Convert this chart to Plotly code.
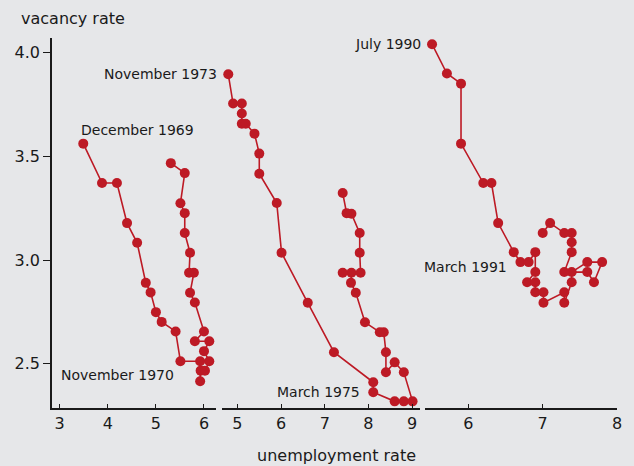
import plotly.graph_objects as go

# ---------------- data ----------------
# Panel 1: December 1969 onward
u_p1 = [3.49, 3.88, 4.19, 4.40, 4.61, 4.79, 4.89, 5.00, 5.12, 5.41, 5.51,
        5.92, 5.92, 5.93, 6.02, 6.11, 6.00, 6.11, 5.81, 6.00, 5.81, 5.71,
        5.79, 5.69, 5.71, 5.60, 5.60, 5.51, 5.60, 5.31]
v_p1 = [3.561, 3.371, 3.371, 3.178, 3.083, 2.890, 2.844, 2.749, 2.702, 2.656, 2.512,
        2.512, 2.416, 2.467, 2.467, 2.512, 2.561, 2.609, 2.609, 2.656, 2.795, 2.842,
        2.939, 2.939, 3.035, 3.130, 3.226, 3.274, 3.419, 3.467]

# Panel 2: November 1973 onward
u_p2 = [4.79, 4.90, 5.10, 5.10, 5.10, 5.19, 5.39, 5.50, 5.50, 5.90, 6.01, 6.61,
        7.21, 8.11, 8.11, 8.60, 8.81, 9.01, 8.81, 8.60, 8.40, 8.40, 8.35, 8.26,
        7.92, 7.71, 7.60, 7.61, 7.41, 7.82, 7.80, 7.80, 7.61, 7.50, 7.41]
v_p2 = [3.895, 3.754, 3.754, 3.706, 3.657, 3.657, 3.609, 3.513, 3.416, 3.275, 3.035, 2.794,
        2.556, 2.411, 2.363, 2.319, 2.319, 2.319, 2.459, 2.507, 2.459, 2.556, 2.652, 2.652,
        2.700, 2.842, 2.890, 2.939, 2.939, 2.939, 3.035, 3.130, 3.223, 3.226, 3.323]

# Panel 3: July 1990 onward
u_p3 = [5.51, 5.71, 5.90, 5.90, 6.20, 6.31, 6.40, 6.61, 6.70, 6.81, 6.90, 6.90,
        6.79, 6.90, 6.90, 7.01, 7.01, 7.29, 7.29, 7.39, 7.39, 7.60, 7.80, 7.69,
        7.60, 7.29, 7.39, 7.39, 7.39, 7.29, 7.10, 7.00]
v_p3 = [4.040, 3.899, 3.850, 3.561, 3.371, 3.371, 3.178, 3.038, 2.990, 2.990, 3.038, 2.942,
        2.893, 2.893, 2.845, 2.845, 2.794, 2.845, 2.794, 2.893, 2.942, 2.990, 2.990, 2.893,
        2.942, 2.942, 3.038, 3.086, 3.130, 3.130, 3.178, 3.130]

x1_ticks = [3, 4, 5, 6]
x2_ticks = [5, 6, 7, 8, 9]
x3_ticks = [6, 7, 8]
y_ticks = [2.5, 3.0, 3.5, 4.0]
y_ticklabels = ["2.5", "3.0", "3.5", "4.0"]

# ---------------- style ----------------
RED = "#bd1a25"
BG = "#e6e7e9"
INK = "#1a1a1a"
FONT = "DejaVu Sans"

X1_RANGE = [2.84, 6.25]
X2_RANGE = [4.64, 9.18]
X3_RANGE = [5.41, 8.0]
Y_RANGE = [2.287, 4.07]

fig = go.Figure()
for u, v, xa in [(u_p1, v_p1, "x"), (u_p2, v_p2, "x2"), (u_p3, v_p3, "x3")]:
    fig.add_trace(go.Scatter(
        x=u, y=v, xaxis=xa, yaxis="y", mode="lines+markers",
        marker=dict(size=10, color=RED),
        line=dict(color=RED, width=1.6),
        cliponaxis=False, showlegend=False, hoverinfo="skip"))


def xaxis_cfg(rng, ticks, dom):
    vals = [rng[0]] + list(ticks) + [rng[1]]
    txt = [""] + [str(t) for t in ticks] + [""]
    return dict(domain=dom, range=rng, anchor="y",
                tickmode="array", tickvals=vals, ticktext=txt,
                ticks="inside", ticklen=4, tickwidth=1.3, tickcolor=INK,
                showline=True, linecolor=INK, linewidth=1.6,
                showgrid=False, zeroline=False,
                tickfont=dict(family=FONT, size=16, color=INK))


fig.update_layout(
    width=634, height=466,
    margin=dict(l=52, r=17, t=38, b=58),
    paper_bgcolor=BG, plot_bgcolor=BG,
    font=dict(family=FONT, color=INK),
    xaxis=xaxis_cfg(X1_RANGE, x1_ticks, [0.0, 0.2903]),
    xaxis2=xaxis_cfg(X2_RANGE, x2_ticks, [0.3004, 0.6513]),
    xaxis3=xaxis_cfg(X3_RANGE, x3_ticks, [0.6595, 1.0]),
    yaxis=dict(range=Y_RANGE, domain=[0, 1], anchor="x",
               tickmode="array", tickvals=y_ticks, ticktext=y_ticklabels,
               ticks="outside", ticklen=7, tickwidth=1.3, tickcolor=INK,
               showline=True, linecolor=INK, linewidth=1.6,
               showgrid=False, zeroline=False,
               tickfont=dict(family=FONT, size=16, color=INK)),
)

ann_font = dict(family=FONT, size=14, color=INK)
labels = [
    ("December 1969", "x", u_p1[0], v_p1[0], "left", -4, 14),
    ("November 1970", "x", u_p1[10], v_p1[10], "right", -4, -14),
    ("November 1973", "x2", u_p2[0], v_p2[0], "right", -9, 0),
    ("March 1975", "x2", u_p2[14], v_p2[14], "right", -11, 0),
    ("July 1990", "x3", u_p3[0], v_p3[0], "right", -9, 0),
    ("March 1991", "x3", u_p3[8], v_p3[8], "right", -11, -5),
]
for text, xr, x, y, xanc, xs, ys in labels:
    fig.add_annotation(text=text, xref=xr, yref="y", x=x, y=y,
                       xanchor=xanc, yanchor="middle", xshift=xs, yshift=ys,
                       showarrow=False, font=ann_font)

fig.add_annotation(text="vacancy rate", xref="paper", yref="paper",
                   x=-0.058, y=1.053, xanchor="left", yanchor="middle",
                   showarrow=False, font=dict(family=FONT, size=16, color=INK))
fig.add_annotation(text="unemployment rate", xref="paper", yref="paper",
                   x=0.504, y=-0.128, xanchor="center", yanchor="middle",
                   showarrow=False, font=dict(family=FONT, size=16, color=INK))

fig.write_html(
    "out.html",
    config={"displayModeBar": False},
    post_script=("document.body.style.margin='0';"
                 "document.body.style.background='" + BG + "';"),
)
